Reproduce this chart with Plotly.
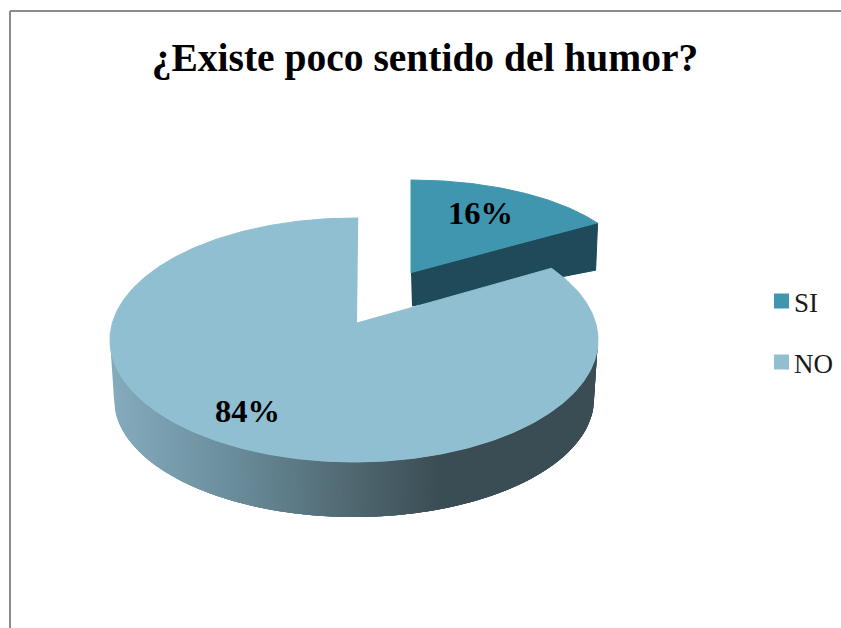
import numpy as np
import plotly.graph_objects as go

# Survey answers, in percent
categories = ["SI", "NO"]
shares = [16, 84]
title_text = "¿Existe poco sentido del humor?"

top_colors = {"SI": "#4096AF", "NO": "#90BFD2"}
SI_WALL = "#1F4A59"
WALL_RAMP = [(112, (132, 171, 188)), (230, (106, 141, 156)), (350, (80, 104, 113)),
             (440, (59, 77, 84)), (598, (59, 77, 84))]
SERIF = "Liberation Serif"


def arc(cx, cy, rx, ry, start_deg, end_deg, n=160):
    """Points of an elliptical arc; angles run clockwise from twelve o'clock."""
    t = np.radians(np.linspace(start_deg, end_deg, n))
    return cx + rx * np.sin(t), cy - ry * np.cos(t)


def polygon(xs, ys, color, line_width=1):
    return go.Scatter(x=xs, y=ys, mode="lines", fill="toself", fillcolor=color,
                      line=dict(color=color, width=line_width), hoverinfo="skip", showlegend=False)


si_sweep = 3.6 * shares[0]
no_start = 0.92 * si_sweep + 1          # the tilted view foreshortens the cut edge
no_end = 361

fig = go.Figure()

# Exploded SI slice: its cut face first, then its top
si_cx, si_cy, si_rx, si_ry = 411, 273, 221, 93
edge_x, edge_y = arc(si_cx, si_cy, si_rx, si_ry, si_sweep, si_sweep, n=1)
fig.add_trace(polygon([si_cx, edge_x[0], edge_x[0] - 2, si_cx + 1],
                      [si_cy, edge_y[0], edge_y[0] + 47, si_cy + 33], SI_WALL))
sx, sy = arc(si_cx, si_cy, si_rx, si_ry, 0, si_sweep)
fig.add_trace(polygon(np.r_[si_cx, sx], np.r_[si_cy, sy], top_colors["SI"]))

# Rim of the NO slice: narrow overlapping strips carry the shading across the front,
# each one painted over the leading part of the one before it
top = (354, 340, 244, 122)
bottom = (354, 399, 240, 118)
edges = 180 - np.degrees(np.arcsin(np.linspace(-1, 1, 245)))
ramp_x = [p[0] for p in WALL_RAMP]
for i, a in enumerate(edges[:-1]):
    b = edges[min(i + 4, len(edges) - 1)]
    tx, ty = arc(*top, a, b, n=6)
    bx, by = arc(*bottom, b, a, n=6)
    rgb = [int(round(np.interp(tx[0], ramp_x, [p[1][k] for p in WALL_RAMP]))) for k in range(3)]
    fig.add_trace(polygon(np.r_[tx, bx], np.r_[ty, by], f"rgb({rgb[0]},{rgb[1]},{rgb[2]})", line_width=0))

# Top of the NO slice
nx, ny = arc(*top, no_start, no_end, n=400)
fig.add_trace(polygon(np.r_[357, nx], np.r_[323, ny], top_colors["NO"]))

# Key at the right of the pie
key_y = {"SI": 301, "NO": 362}
for name in categories:
    fig.add_trace(go.Scatter(x=[781.5], y=[key_y[name]], mode="markers", name=name,
                             showlegend=False, hoverinfo="name",
                             marker=dict(symbol="square", size=15, color=top_colors[name])))

# Percentage labels and key texts
label_pos = {"SI": (480.5, 213), "NO": (247, 411)}
annotations = [
    dict(x=label_pos[c][0], y=label_pos[c][1], xref="x", yref="y", text=f"<b>{v}%</b>", showarrow=False,
         font=dict(family=SERIF, size=32.5, color="black"))
    for c, v in zip(categories, shares)
] + [
    dict(x=792, y=key_y[c] + 2, xref="x", yref="y", text=c, showarrow=False, xanchor="left", yanchor="middle",
         font=dict(family=SERIF, size=27, color="#1a1a1a"))
    for c in categories
]

frame = dict(color="#8C8C8C", width=2)
fig.update_layout(
    width=841, height=628, autosize=False,
    margin=dict(l=0, r=0, t=0, b=0),
    paper_bgcolor="white", plot_bgcolor="white",
    showlegend=False,
    xaxis=dict(range=[0, 841], visible=False, fixedrange=True),
    yaxis=dict(range=[628, 0], visible=False, fixedrange=True),
    title=dict(text=f"<b>{title_text}</b>", x=425 / 841, xanchor="center", y=1 - 57 / 628, yanchor="middle",
               font=dict(family=SERIF, size=39.5, color="black")),
    annotations=annotations,
    shapes=[
        dict(type="line", x0=10, x1=841, y0=11, y1=11, xref="x", yref="y", line=frame),
        dict(type="line", x0=10, x1=10, y0=11, y1=628, xref="x", yref="y", line=frame),
    ],
)

fig.write_html("out.html")
